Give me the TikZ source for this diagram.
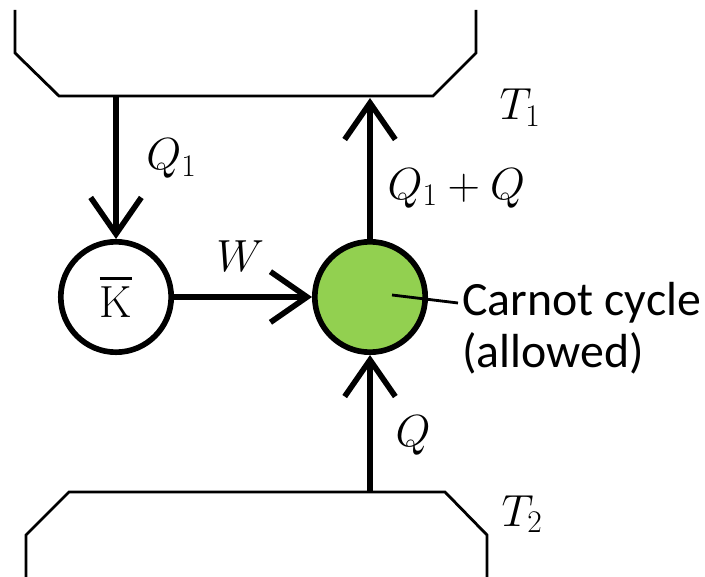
\RequirePackage{fix-cm}
\documentclass[tikz,border=0pt]{standalone}
\usepackage{fontspec}
\usepackage{tikz}
\usepackage{xcolor}
\usetikzlibrary{arrows.meta, positioning}
\newfontfamily\notefont{Carlito}
\definecolor{carnotgreen}{RGB}{146, 208, 80}
\newcommand{\barK}{\vbox{\hrule height 2pt\kern 5pt\hbox{$\mathrm{K}$}}}

\begin{document}
\begin{tikzpicture}[x=0.025cm, y=-0.025cm, font=\fontsize{32}{38}\selectfont]
    \tikzstyle{engine} = [circle, draw, line width=4pt,
                          minimum size=2.76cm, inner sep=0pt]
    \tikzstyle{arr}  = [-{Straight Barb[length=26pt, width=36pt]}, line width=4pt]
    \tikzstyle{lbl}  = [inner sep=2pt]
    \tikzstyle{bath} = [line width=2pt]
    \tikzstyle{note} = [font=\notefont\fontsize{34}{40}\selectfont, inner sep=3pt]

    \useasboundingbox (0,0) rectangle (705,577);

    %% Reservoirs (hot on top, cold below)
    \draw[bath] (15,10) -- (15,53) -- (59,96) -- (433,96) -- (476,53) -- (476,10);
    \draw[bath] (26,590) -- (26,535) -- (69,492) -- (445,492) -- (487,535) -- (487,590);
    \coordinate (hot1) at (116,96);
    \coordinate (hot2) at (370,98);
    \coordinate (cold) at (370,492);
    \node[lbl] at (520,108) (t1) {$T_1$};
    \node[lbl] at (522,514) (t2) {$T_2$};

    %% Engines
    \node[engine]                   at (116,297) (kbar)   {\barK};
    \node[engine, fill=carnotgreen] at (370,297) (carnot) {};

    %% Heat and work flows
    \draw[arr] (hot1)         -- node[lbl, pos=0.44, right=0.62cm]{$Q_1$}   (kbar);
    \draw[arr] (kbar)         -- node[lbl, pos=0.48, above=0.5cm]{$W$}     (carnot);
    \draw[arr] (carnot.north) -- node[lbl, pos=0.36, right=0.3cm]{$Q_1+Q$} (hot2);
    \draw[arr] (cold)         -- node[lbl, pos=0.41, right=0.5cm]{$Q$}     (carnot.south);

    %% Note
    \node[note, anchor=west] at (458,303) (cyc) {Carnot cycle};
    \node[note, below=0pt of cyc.south west, anchor=north west] (allow) {(allowed)};
    \draw[line width=2pt] ([xshift=0.55cm, yshift=0.05cm]carnot.center) -- (cyc.west);
\end{tikzpicture}
\end{document}
